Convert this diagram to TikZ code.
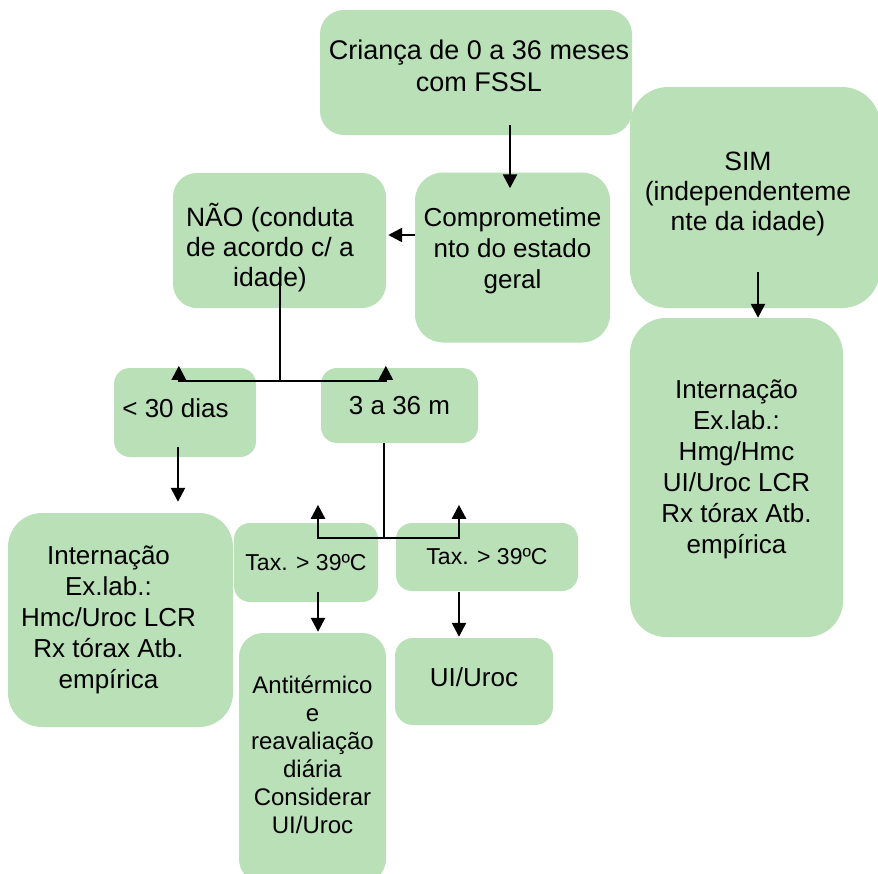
\documentclass[tikz,border=0pt]{standalone}
\usepackage{fontspec}
\setmainfont{Liberation Sans}
\usetikzlibrary{arrows.meta,calc}

\definecolor{verdecaixa}{RGB}{185,224,183}
% linhas centradas; o opcional empurra o texto para cima
\newcommand{\linhas}[2][0pt]{\begin{tabular}{@{}c@{}}#2\\[#1]\end{tabular}}

\begin{document}
\begin{tikzpicture}[x=1pt,y=-1pt,>={Triangle[width=14pt,length=14pt]},
  caixa/.style={fill=verdecaixa,rounded corners=20pt,inner sep=0pt,align=center,
    font=\fontsize{26}{31}\selectfont},
  seta/.style={->,line width=2.5pt}]
\useasboundingbox (0,0) rectangle (878,873);

% Topo: criança, estado geral e SIM.
\node[caixa,font=\fontsize{27}{32}\selectfont,minimum width=312pt,minimum height=125pt,rounded corners=24pt] (crianca) at (476,72.5) {\hspace*{6pt}\linhas[6pt]{Criança de 0 a 36 meses\\com FSSL}};
\node[caixa,minimum width=195pt,minimum height=170pt,rounded corners=28pt] (comp) at (512.5,257.5) {\linhas[12pt]{Comprometime\\nto do estado\\geral}};
\node[caixa,font=\fontsize{26.5}{30}\selectfont,minimum width=213pt,minimum height=135pt,rounded corners=24pt] (nao) at (279.5,240.5) {\linhas{\rule{0pt}{40pt}NÃO (conduta\\de acordo c/ a\\idade)}\hspace*{19pt}};
\node[caixa,font=\fontsize{26.5}{30}\selectfont,minimum width=250pt,minimum height=221pt,rounded corners=38pt] (sim) at (755,197.5) {\linhas[7pt]{SIM\\(independenteme\\nte da idade)}\hspace*{14pt}};

% Faixas de idade.
\node[caixa,minimum width=142pt,minimum height=89pt,rounded corners=16pt] (menos30) at (185,412.5) {\linhas[2pt]{< 30 dias}\hspace*{19pt}};
\node[caixa,minimum width=157pt,minimum height=75pt,rounded corners=16pt] (tres36) at (399.5,405.5) {3 a 36 m};

% Condutas.
\node[caixa,minimum width=225pt,minimum height=214pt,rounded corners=34pt] (intEsq) at (120.5,620) {\linhas{Internação\\Ex.lab.:\\Hmc/Uroc LCR\\Rx tórax Atb.\\empírica}\hspace*{24pt}};
\node[caixa,font=\fontsize{23}{28}\selectfont,minimum width=144pt,minimum height=79pt,rounded corners=16pt] (taxEsq) at (306,562.5) {Tax. > 39ºC};
\node[caixa,font=\fontsize{23}{28}\selectfont,minimum width=182pt,minimum height=68pt,rounded corners=16pt] (taxDir) at (487,557) {Tax. > 39ºC};
\node[caixa,font=\fontsize{24}{28}\selectfont,minimum width=147pt,minimum height=250pt,rounded corners=24pt] (antiterm) at (312.5,758) {\linhas{Antitérmico\\e\\reavaliação\\diária\\Considerar\\UI/Uroc}};
\node[caixa,minimum width=158pt,minimum height=87pt,rounded corners=18pt] (uiuroc) at (474,681.5) {\linhas[2pt]{UI/Uroc}};
\node[caixa,minimum width=213pt,minimum height=319pt,rounded corners=36pt] (intDir) at (736.5,477.5) {\linhas[16pt]{Internação\\Ex.lab.:\\Hmg/Hmc\\UI/Uroc LCR\\Rx tórax Atb.\\empírica}};

% Setas.
\draw[seta] ($(crianca.south)+(34,-10)$) -- ($(comp.north)+(-2.5,16)$);
\draw[seta] ($(comp.west)+(0,-22.5)$) -- ($(nao.east)+(2,-5.5)$);
\draw[line width=2.5pt] ($(nao.south)+(0.5,-26)$) -- ++(0,99) coordinate (ramo1);
\draw[seta] (ramo1) -| ($(menos30.north west)+(65,-2)$);
\draw[seta] (ramo1) -| ($(tres36.north west)+(65,-2)$);
\draw[seta] ($(menos30.south)+(-7,-10)$) -- ($(intEsq.north)+(57.5,-11)$);
\draw[line width=2.5pt] ($(tres36.south)+(-15.5,0)$) -- ++(0,95) coordinate (ramo2);
\draw[seta] (ramo2) -| ($(taxEsq.north)+(12,-18)$);
\draw[seta] (ramo2) -| ($(taxDir.north)+(-28,-18)$);
\draw[seta] ($(taxEsq.south)+(12,-10)$) -- ($(antiterm.north)+(5.5,-1)$);
\draw[seta] ($(taxDir.south)+(-28,1)$) -- ($(uiuroc.north)+(-15,-1)$);
\draw[seta] ($(sim.south)+(3,-36)$) -- ($(intDir.north)+(21.5,0)$);
\end{tikzpicture}
\end{document}
